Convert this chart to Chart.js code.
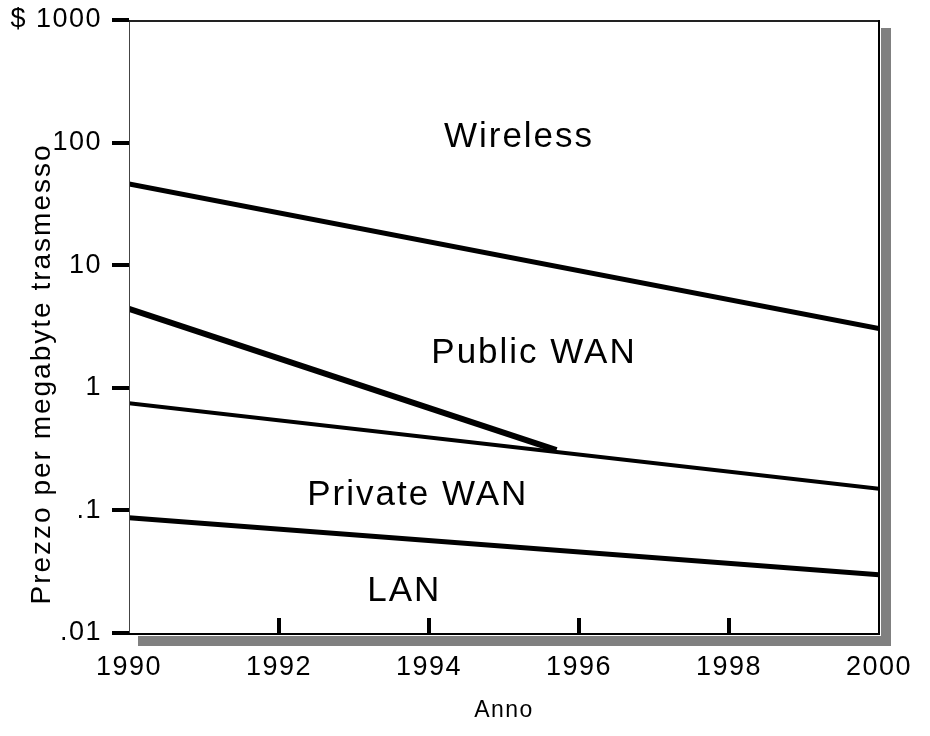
<!DOCTYPE html>
<html>
<head>
<meta charset="utf-8">
<script src="https://cdn.jsdelivr.net/npm/chart.js@4.4.1/dist/chart.umd.min.js"></script>
<style>
html,body{margin:0;padding:0;background:#fff;}
canvas{display:block;}
</style>
</head>
<body>
<canvas id="c" width="930" height="736"></canvas>
<script>
// ---- data ----
const years = [1990, 2000];
const wirelessBoundary = [46, 3.05];      // Wireless / Public WAN boundary
const publicYears = [1990, 1995.7];
const publicBoundary = [4.4, 0.31];       // Public WAN / Private WAN boundary (ends on the Private line)
const privateBoundary = [0.75, 0.15];     // Private WAN / LAN boundary (upper)
const lanBoundary = [0.087, 0.0298];      // LAN boundary

const xTickValues = [1990, 1992, 1994, 1996, 1998, 2000];
const xTickLabels = ['1990', '1992', '1994', '1996', '1998', '2000'];
const yTickValues = [0.01, 0.1, 1, 10, 100, 1000];
const yTickLabels = ['.01', '.1', '1', '10', '100', '$ 1000'];

const regionNames = ['Wireless', 'Public WAN', 'Private WAN', 'LAN'];
const regionX = [1995.2, 1995.4, 1993.85, 1993.67];
const regionY = [110, 1.92, 0.132, 0.0217];

const xTitle = 'Anno';
const yTitle = 'Prezzo per megabyte trasmesso';

const FONT = "'Liberation Sans', Arial, sans-serif";

function pts(xs, ys){ return xs.map((x,i)=>({x:x, y:ys[i]})); }

const decor = {
  id:'decor',
  beforeDraw(chart){
    const ctx = chart.ctx, a = chart.chartArea;
    ctx.save();
    ctx.fillStyle = '#808080';
    ctx.fillRect(a.left + 9, a.top + 8, (a.right + 12) - (a.left + 9), (a.bottom + 13) - (a.top + 8));
    ctx.fillStyle = '#ffffff';
    ctx.fillRect(a.left, a.top, a.right - a.left + 2, a.bottom - a.top + 3);
    ctx.restore();
    ctx.letterSpacing = '1.5px';
  },
  afterDatasetsDraw(chart){
    const ctx = chart.ctx, a = chart.chartArea;
    const xs = chart.scales.x, ys = chart.scales.y;
    ctx.save();
    // frame
    ctx.lineCap = 'butt';
    ctx.strokeStyle = '#444'; ctx.lineWidth = 1;
    ctx.beginPath(); ctx.moveTo(a.left + 0.5, a.bottom + 1); ctx.lineTo(a.left + 0.5, a.top); ctx.stroke();
    ctx.strokeStyle = '#222'; ctx.lineWidth = 2;
    ctx.beginPath(); ctx.moveTo(a.left, a.top + 1); ctx.lineTo(a.right, a.top + 1); ctx.stroke();
    ctx.strokeStyle = '#000'; ctx.lineWidth = 2;
    ctx.beginPath(); ctx.moveTo(a.right, a.top); ctx.lineTo(a.right, a.bottom + 1); ctx.lineTo(a.left, a.bottom + 1); ctx.stroke();
    // y tick marks (outside, left)
    ctx.fillStyle = '#000';
    ys.ticks.forEach(t => {
      const py = ys.getPixelForValue(t.value);
      ctx.fillRect(a.left - 17, Math.round(py) - 2, 17, 4);
    });
    // x tick marks (inside, interior ticks only)
    xs.ticks.forEach((t,i) => {
      if (i === 0 || i === xs.ticks.length - 1) return;
      const px = xs.getPixelForValue(t.value);
      ctx.fillRect(Math.round(px) - 2, a.bottom - 15, 4, 15);
    });
    // region labels
    ctx.font = '35px ' + FONT;
    ctx.letterSpacing = '2px';
    ctx.textAlign = 'center';
    ctx.textBaseline = 'middle';
    ctx.fillStyle = '#000';
    regionNames.forEach((n,i) => {
      ctx.fillText(n, xs.getPixelForValue(regionX[i]), ys.getPixelForValue(regionY[i]));
    });
    // y axis title
    ctx.font = '28px ' + FONT;
    ctx.letterSpacing = '2px';
    ctx.translate(42, 374);
    ctx.rotate(-Math.PI/2);
    ctx.fillText(yTitle, 0, 0);
    ctx.restore();
    ctx.letterSpacing = '1.5px';
  }
};

new Chart(document.getElementById('c'), {
  type: 'line',
  data: {
    datasets: [
      { label:'Wireless', data: pts(years, wirelessBoundary), borderWidth: 5 },
      { label:'Public WAN', data: pts(publicYears, publicBoundary), borderWidth: 6 },
      { label:'Private WAN', data: pts(years, privateBoundary), borderWidth: 4 },
      { label:'LAN', data: pts(years, lanBoundary), borderWidth: 5 }
    ].map(d => Object.assign(d, {
      borderColor:'#000', pointRadius:0, pointHoverRadius:0, tension:0, fill:false, clip:0, borderCapStyle:'butt'
    }))
  },
  options: {
    responsive: false,
    animation: false,
    events: [],
    layout: { padding: { top: 20, right: 51, left: 0, bottom: 0 } },
    plugins: { legend: { display:false }, tooltip: { enabled:false } },
    scales: {
      x: {
        type: 'linear', min: 1990, max: 2000,
        grid: { display:false, drawTicks:false },
        border: { display:false },
        afterBuildTicks(s){ s.ticks = xTickValues.map(v => ({value:v})); },
        afterFit(s){ s.height = 103; s.paddingLeft = 0; s.paddingRight = 0; },
        ticks: {
          color:'#000', font:{ family: FONT, size:27 }, padding: 18, maxRotation:0, autoSkip:false,
          callback(v){ const i = xTickValues.indexOf(v); return i >= 0 ? xTickLabels[i] : ''; }
        },
        title: { display:true, text: xTitle, color:'#000', font:{ family: FONT, size:23 }, padding:{ top:0, bottom:12 } }
      },
      y: {
        type: 'logarithmic', min: 0.01, max: 1000,
        grid: { display:false, drawTicks:false },
        border: { display:false },
        afterBuildTicks(s){ s.ticks = yTickValues.map(v => ({value:v})); },
        afterFit(s){ s.width = 129; s.paddingTop = 0; s.paddingBottom = 0; },
        ticks: {
          color:'#000', font:{ family: FONT, size:27 }, padding: 27, autoSkip:false,
          callback(v){ const i = yTickValues.indexOf(v); return i >= 0 ? yTickLabels[i] : ''; }
        }
      }
    }
  },
  plugins: [decor]
});
</script>
</body>
</html>
